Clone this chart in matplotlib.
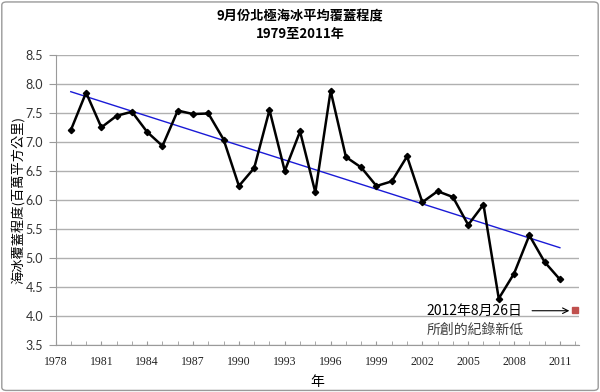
import numpy as np
import matplotlib
matplotlib.use('Agg')
import matplotlib.pyplot as plt
from matplotlib.patches import FancyBboxPatch

# September Arctic sea-ice extent (million km^2)
years = list(range(1979, 2012))
extent = [7.20, 7.85, 7.25, 7.45, 7.52, 7.17, 6.93, 7.54, 7.48, 7.49,
          7.04, 6.24, 6.55, 7.55, 6.50, 7.18, 6.13, 7.88, 6.74, 6.56,
          6.24, 6.32, 6.75, 5.96, 6.15, 6.05, 5.57, 5.92, 4.30, 4.73,
          5.39, 4.93, 4.63]
record_year = 2012
record_value = 4.10
xticks = list(range(1978, 2012, 3))
yticks = [3.5, 4.0, 4.5, 5.0, 5.5, 6.0, 6.5, 7.0, 7.5, 8.0, 8.5]

cjk = ['Noto Sans CJK TC', 'DejaVu Sans']
plt.rcParams['font.family'] = cjk

fig = plt.figure(figsize=(6.0, 3.92), dpi=100)
ax = fig.add_axes([0.0925, 0.12, 0.8725, 0.74])

# chart border
fig.patches.append(FancyBboxPatch((0.003, 0.004), 0.994, 0.991, boxstyle='round,pad=0,rounding_size=0.008',
                                  transform=fig.transFigure, fill=False, edgecolor='#9a9a9a', linewidth=1))

# trend line (least squares, like Excel's linear trendline)
k, b = np.polyfit(years, extent, 1)
tx = np.array([years[0], years[-1]])
ax.plot(tx, k * tx + b, color='#1a1ad6', linewidth=1.0, zorder=3)

ax.plot(years, extent, color='black', linewidth=1.8, marker='D', markersize=3.2, zorder=4)
ax.plot([record_year], [record_value], marker='s', color='#c0504d', markersize=4.5, linestyle='none', zorder=5)

ax.set_xlim(1978, 2012.25)
ax.set_ylim(3.5, 8.5)
ax.set_yticks(yticks)
ax.set_yticklabels(['%.1f' % v for v in yticks], fontfamily='Lato', fontsize=9, color='#333333')
ax.set_xticks(xticks)
ax.set_xticks(list(range(1978, 2013)), minor=True)
ax.set_xticklabels([str(v) for v in xticks], fontfamily='Liberation Serif', fontsize=8.5, color='#222222')
ax.tick_params(axis='x', which='both', direction='in', length=3, color='#9a9a9a', pad=8)
ax.tick_params(axis='y', direction='out', length=5, color='#9a9a9a', pad=4)

ax.grid(axis='y', color='#b0b0b0', linewidth=1)
ax.set_axisbelow(True)
for s in ['top', 'right']:
    ax.spines[s].set_visible(False)
for s in ['left', 'bottom']:
    ax.spines[s].set_color('#9a9a9a')

ax.set_xlabel('年', fontsize=10, labelpad=5)
ax.set_ylabel('海冰覆蓋程度(百萬平方公里)', fontsize=9.5, labelpad=0)

ax.text(2002.25, 4.09, '2012年8月26日', fontsize=10, va='center', ha='left', color='black', family=cjk)
ax.text(2002.25, 3.76, '所創的紀錄新低', fontsize=10, va='center', ha='left', color='#404040', family=cjk)
ax.annotate('', xy=(2011.8, 4.09), xytext=(2009.0, 4.09),
            arrowprops=dict(arrowstyle='->', color='black', linewidth=0.8))

fig.text(0.5, 0.958, '9月份北極海冰平均覆蓋程度', ha='center', va='center', fontsize=9.5, fontweight='bold')
fig.text(0.5, 0.913, '1979至2011年', ha='center', va='center', fontsize=9.5, fontweight='bold')

fig.savefig('out.png', dpi=100)
